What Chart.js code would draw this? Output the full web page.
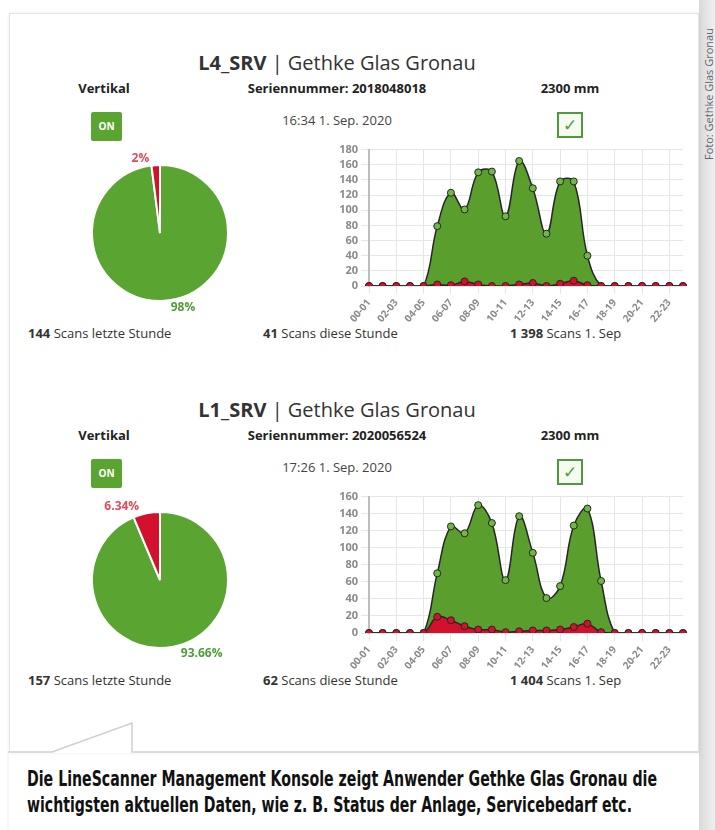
<!DOCTYPE html>
<html>
<head>
<meta charset="utf-8">
<script src="https://cdn.jsdelivr.net/npm/chart.js@4.4.0/dist/chart.umd.min.js"></script>
<style>
  body { margin: 0; width: 715px; height: 830px; position: relative; background: #fff; font-family: "Open Sans", sans-serif; color: #333; overflow: hidden; }
  .abs { position: absolute; }
  .card { left: 9px; top: 13px; width: 688px; height: 739px; border: 1px solid #e4e4e4; border-bottom: none; box-shadow: 0 0 4px rgba(0,0,0,0.07); }
  .strip { left: 699px; top: 0; width: 16px; height: 830px; background: linear-gradient(to right, #d9d9d9, #efefef); }
  .credit { left: 701px; top: 160px; transform-origin: 0 0; transform: rotate(-90deg); font-size: 11px; color: #666; white-space: nowrap; }
  .title { width: 500px; text-align: center; font-size: 20px; line-height: 24px; }
  .title b { font-weight: 700; }
  .head { width: 260px; text-align: center; font-size: 13px; font-weight: 700; line-height: 16px; color: #222; }
  .stamp { width: 260px; text-align: center; font-size: 13px; line-height: 16px; color: #444; }
  .badge { width: 31px; height: 29px; background: #5aa532; color: #fff; font-size: 10px; font-weight: 700; line-height: 29px; text-align: center; border-radius: 2px; }
  .check { width: 22px; height: 22px; border: 2px solid #4e9b3a; background: #f6fbf2; color: #4e9b3a; font-size: 17px; line-height: 22px; text-align: center; }
  .foot { font-size: 13px; line-height: 16px; color: #333; white-space: nowrap; }
</style>
</head>
<body>
<div class="abs strip"></div>
<div class="abs credit">Foto: Gethke Glas Gronau</div>
<div class="abs card"></div>
<svg class="abs" style="left:0;top:0" width="715" height="830">
  <polyline points="8,752 52,752 132,723 132,752 698,752" fill="none" stroke="#cfcfcf" stroke-width="1.5"/>
  <line x1="8" y1="752" x2="8" y2="830" stroke="#eeeeee" stroke-width="1"/>
  <g font-family="Liberation Sans Narrow, DejaVu Sans Condensed, sans-serif" font-weight="bold" font-size="21" fill="#111">
    <text x="27" y="786" textLength="630" lengthAdjust="spacingAndGlyphs">Die LineScanner Management Konsole zeigt Anwender Gethke Glas Gronau die</text>
    <text x="27" y="812" textLength="605" lengthAdjust="spacingAndGlyphs">wichtigsten aktuellen Daten, wie z. B. Status der Anlage, Servicebedarf etc.</text>
  </g>
</svg>

<script>
const deviceNames = ['L4_SRV', 'L1_SRV'];
const customerName = 'Gethke Glas Gronau';
const orientation = 'Vertikal';
const serialNumbers = ['2018048018', '2020056524'];
const widths = ['2300 mm', '2300 mm'];
const timestamps = ['16:34 1. Sep. 2020', '17:26 1. Sep. 2020'];
const scansLastHour = ['144', '157'];
const scansThisHour = ['41', '62'];
const scansToday = ['1 398', '1 404'];

const hourLabels = ['00-01', '01-02', '02-03', '03-04', '04-05', '05-06', '06-07', '07-08',
  '08-09', '09-10', '10-11', '11-12', '12-13', '13-14', '14-15', '15-16',
  '16-17', '17-18', '18-19', '19-20', '20-21', '21-22', '22-23', '23-24'];

// Panel 1 (L4_SRV)
const goodScans1 = [0, 0, 0, 0, 0, 79, 123, 101, 150, 151, 92, 165, 129, 69, 138, 138, 40, 0, 0, 0, 0, 0, 0, 0];
const badScans1 = [0, 0, 0, 0, 0, 2, 1, 6, 2, 0, 0, 2, 4, 0, 3, 7, 1, 0, 0, 0, 0, 0, 0, 0];
const pieShares1 = [98, 2];

// Panel 2 (L1_SRV)
const goodScans2 = [0, 0, 0, 0, 0, 70, 125, 117, 150, 129, 62, 137, 94, 41, 55, 126, 146, 61, 0, 0, 0, 0, 0, 0];
const badScans2 = [0, 0, 0, 0, 0, 19, 15, 8, 4, 4, 1, 2, 3, 3, 4, 7, 11, 1, 0, 0, 0, 0, 0, 0];
const pieShares2 = [93.66, 6.34];

const yMaxValues = [180, 160];

const GREEN = '#5aa532';
const RED = '#d3102d';

// Prozent-Labels aussen an der Torte
const pieLabels = {
  id: 'pieLabels',
  afterDatasetsDraw(chart) {
    const ctx = chart.ctx;
    const values = chart.data.datasets[0].data;
    const colors = ['#4f9e35', '#e2495a'];
    chart.getDatasetMeta(0).data.forEach((arc, i) => {
      const mid = (arc.startAngle + arc.endAngle) / 2;
      const r = arc.outerRadius + 7;
      let x = arc.x + Math.cos(mid) * r;
      const y = arc.y + Math.sin(mid) * r;
      ctx.save();
      ctx.font = 'bold 12px "Open Sans"';
      ctx.fillStyle = colors[i];
      ctx.textBaseline = 'middle';
      if (x < arc.x) { ctx.textAlign = 'right'; x -= 6; } else { ctx.textAlign = 'left'; x += 6; }
      ctx.fillText(values[i] + '%', x, y);
      ctx.restore();
    });
  }
};

function addDiv(cls, left, top, html) {
  const d = document.createElement('div');
  d.className = 'abs ' + cls;
  d.style.left = left + 'px';
  d.style.top = top + 'px';
  d.innerHTML = html;
  document.body.appendChild(d);
  return d;
}

function addCanvas(left, top, w, h) {
  const c = document.createElement('canvas');
  c.className = 'abs';
  c.style.left = left + 'px';
  c.style.top = top + 'px';
  c.width = w;
  c.height = h;
  c.style.width = w + 'px';
  c.style.height = h + 'px';
  document.body.appendChild(c);
  return c;
}

function buildPanel(i, off, good, bad, shares) {
  addDiv('title', 87, 51 + off, `<b>${deviceNames[i]}</b> | ${customerName}`);
  addDiv('head', -26, 80 + off, orientation);
  addDiv('head', 207, 80 + off, 'Seriennummer: ' + serialNumbers[i]);
  addDiv('head', 440, 80 + off, widths[i]);
  addDiv('badge', 91, 112 + off, 'ON');
  addDiv('stamp', 207, 112 + off, timestamps[i]);
  addDiv('check', 557, 112 + off, '&#10003;');
  addDiv('foot', 28, 325 + off, `<b>${scansLastHour[i]}</b> Scans letzte Stunde`);
  addDiv('foot', 263, 325 + off, `<b>${scansThisHour[i]}</b> Scans diese Stunde`);
  addDiv('foot', 510, 325 + off, `<b>${scansToday[i]}</b> Scans 1. Sep`);

  // Torte
  const pie = addCanvas(60, 133 + off, 200, 200);
  new Chart(pie.getContext('2d'), {
    type: 'pie',
    data: {
      labels: ['OK', 'Fehler'],
      datasets: [{
        data: shares,
        backgroundColor: [GREEN, RED],
        borderColor: '#ffffff',
        borderWidth: 2
      }]
    },
    options: {
      responsive: false,
      animation: false,
      layout: { padding: 31 },
      plugins: { legend: { display: false }, tooltip: { enabled: false } }
    },
    plugins: [pieLabels]
  });

  // Scans pro Stunde
  const area = addCanvas(320, 140 + off, 380, 195);
  new Chart(area.getContext('2d'), {
    type: 'line',
    data: {
      labels: hourLabels,
      datasets: [{
        label: 'Fehler',
        data: bad,
        fill: 'origin',
        backgroundColor: RED,
        borderColor: '#262626',
        borderWidth: 1.5,
        pointRadius: 3.5,
        pointBorderWidth: 1,
        pointBackgroundColor: RED,
        pointBorderColor: '#262626',
        tension: 0.4
      }, {
        label: 'OK',
        data: good,
        fill: 'origin',
        backgroundColor: '#5a9e2e',
        borderColor: '#262626',
        borderWidth: 1.5,
        pointRadius: 3.5,
        pointBorderWidth: 1,
        pointBackgroundColor: '#6fb841',
        pointBorderColor: '#262626',
        tension: 0.4
      }]
    },
    options: {
      responsive: false,
      animation: false,
      layout: { padding: { top: 4, right: 17 } },
      plugins: { legend: { display: false }, tooltip: { enabled: false } },
      scales: {
        x: {
          afterFit: (s) => { s.height = 49; },
          grid: { color: '#e6e6e6' },
          border: { display: false },
          ticks: {
            autoSkip: false,
            minRotation: 50,
            maxRotation: 50,
            color: '#8a8a8a',
            font: { size: 10, weight: 'bold', family: 'Open Sans' },
            callback: (v, idx) => (idx % 2 === 0 ? hourLabels[idx] : null)
          }
        },
        y: {
          min: 0,
          max: yMaxValues[i],
          afterFit: (s) => { s.width = 49; },
          grid: { color: '#e6e6e6' },
          border: { color: '#bdbdbd', width: 2 },
          ticks: {
            autoSkip: false,
            stepSize: 20,
            color: '#8a8a8a',
            font: { size: 11, weight: 'bold', family: 'Open Sans' }
          }
        }
      }
    }
  });
}

buildPanel(0, 0, goodScans1, badScans1, pieShares1);
buildPanel(1, 347, goodScans2, badScans2, pieShares2);
</script>
</body>
</html>
